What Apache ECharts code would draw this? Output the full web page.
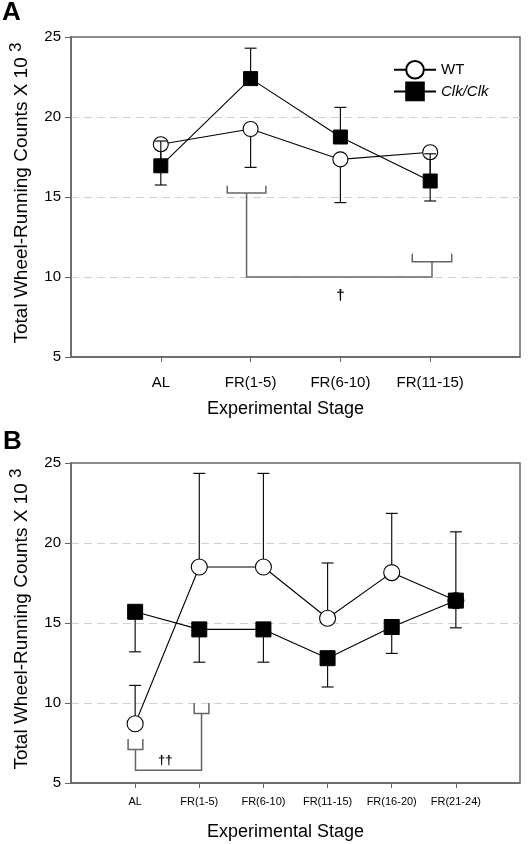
<!DOCTYPE html>
<html><head><meta charset="utf-8">
<script src="https://cdn.jsdelivr.net/npm/echarts@6/dist/echarts.min.js"></script>
<style>html,body{margin:0;padding:0;background:#fff}#c{width:529px;height:844px}</style>
</head><body><div id="c"></div>
<script>
// ---- data (x 10^3 counts) ----
const catsA = ['AL', 'FR(1-5)', 'FR(6-10)', 'FR(11-15)'];
const wtA = [18.3, 19.25, 17.35, 17.8];
const wtAErr = [2.55, 2.4, 2.7, 3.05];      // drawn downward
const clkA = [16.95, 22.4, 18.75, 16.0];
const clkAErr = [1.55, 1.9, 1.85, 1.7];     // drawn upward

const catsB = ['AL', 'FR(1-5)', 'FR(6-10)', 'FR(11-15)', 'FR(16-20)', 'FR(21-24)'];
const wtB = [8.7, 18.5, 18.5, 15.3, 18.15, 16.4];
const wtBErr = [2.4, 5.85, 5.85, 3.45, 3.7, 4.3];   // drawn upward
const clkB = [15.7, 14.6, 14.6, 12.8, 14.75, 16.4];
const clkBErr = [2.5, 2.05, 2.05, 1.8, 1.65, 1.7];  // drawn downward

const yMin = 5, yMax = 25, yStep = 5;

// significance brackets (category index, y in data units)
const sigA = {
  left: {cat: 2, off: -0.045, half: 0.215, top: 15.7, base: 15.25},
  right: {cat: 4, off: 0.02, half: 0.22, top: 11.45, base: 10.95},
  bar: 10.0, mark: '\u2020', markCat: 3, markY: 8.8, markFont: 15
};
const sigB = {
  left: {cat: 1, off: 0.005, half: 0.115, top: 7.75, base: 7.1},
  right: {cat: 2, off: 0.035, half: 0.115, top: 10.0, base: 9.35},
  bar: 5.8, mark: '\u2020\u2020', markCat: 1.47, markY: 6.4, markFont: 13
};

const FONT = 'Liberation Sans, Arial, sans-serif';
const AXIS = '#666';

function pad(c) { return [''].concat(c, ['']); }
function pts(v) { return v.map((y, i) => [i + 1, y]); }
function errs(v, e) { return v.map((y, i) => [i + 1, y, e[i]]); }

function errRender(dir, capW) {
  return function (params, api) {
    const x = api.value(0), y = api.value(1), e = api.value(2);
    const p0 = api.coord([x, y]);
    const p1 = api.coord([x, y + dir * e]);
    const st = {stroke: '#111', lineWidth: 1.2};
    return {type: 'group', children: [
      {type: 'line', shape: {x1: p0[0], y1: p0[1], x2: p1[0], y2: p1[1]}, style: st},
      {type: 'line', shape: {x1: p1[0] - capW / 2, y1: p1[1], x2: p1[0] + capW / 2, y2: p1[1]}, style: st}
    ]};
  };
}

function sigRender(s) {
  return function (params, api) {
    const step = api.coord([2, 10])[0] - api.coord([1, 10])[0];
    const P = (cat, off, y) => { const c = api.coord([Math.floor(cat), y]); return [c[0] + (cat - Math.floor(cat) + off) * step, c[1]]; };
    const st = {stroke: '#666', lineWidth: 1.5, fill: null};
    const br = b => ({type: 'polyline', shape: {points: [
      P(b.cat, b.off - b.half, b.top), P(b.cat, b.off - b.half, b.base),
      P(b.cat, b.off + b.half, b.base), P(b.cat, b.off + b.half, b.top)]}, style: st});
    const m = P(s.markCat, 0, s.markY);
    return {type: 'group', children: [
      br(s.left), br(s.right),
      {type: 'polyline', shape: {points: [
        P(s.left.cat, s.left.off, s.left.base), P(s.left.cat, s.left.off, s.bar),
        P(s.right.cat, s.right.off, s.bar), P(s.right.cat, s.right.off, s.right.base)]}, style: st},
      {type: 'text', x: m[0], y: m[1], style: {text: s.mark, font: 'bold ' + s.markFont + 'px ' + FONT, fill: '#000', align: 'center', verticalAlign: 'middle'}}
    ]};
  };
}

function xAxis(idx, cats, fs, margin, gap) {
  return {
    type: 'category', gridIndex: idx, data: pad(cats), boundaryGap: false,
    axisLine: {lineStyle: {color: AXIS, width: 1.5}},
    axisTick: {length: 5, lineStyle: {color: AXIS}, interval: (i, v) => v !== ''},
    axisLabel: {fontSize: fs, color: '#000', fontFamily: FONT, margin: margin, interval: 0},
    splitLine: {show: false},
    name: 'Experimental Stage', nameLocation: 'middle', nameGap: gap,
    nameTextStyle: {fontSize: 18, color: '#000', fontFamily: FONT, padding: [0, 20, 0, 0]}
  };
}
function yAxis(idx) {
  return {
    type: 'value', gridIndex: idx, min: yMin, max: yMax, interval: yStep,
    axisLine: {show: true, lineStyle: {color: AXIS, width: 1.5}},
    axisTick: {show: true, length: 6, lineStyle: {color: AXIS}},
    axisLabel: {fontSize: 15, color: '#000', fontFamily: FONT, margin: 10},
    splitLine: {show: true, showMinLine: false, showMaxLine: false,
      lineStyle: {color: '#d0d0d0', type: [8, 5], width: 1.2}},
    name: '{m|Total Wheel-Running Counts X 10 }{sup|3}', nameLocation: 'middle', nameRotate: 90, nameGap: 40,
    nameTextStyle: {fontSize: 19, color: '#000', fontFamily: FONT, padding: [0, 0, 0, 8],
      rich: {
        m: {fontSize: 19, color: '#000', fontFamily: FONT, lineHeight: 20, verticalAlign: 'bottom'},
        sup: {fontSize: 17, color: '#000', fontFamily: FONT, lineHeight: 17, padding: [0, 0, 6, 0], verticalAlign: 'bottom'}
      }}
  };
}

function panelSeries(gi, wt, wtE, wtDir, clk, clkE, clkDir, sig, symW, symC) {
  return [
    {type: 'custom', xAxisIndex: gi, yAxisIndex: gi, z: 1, silent: true, data: [[0, 0]], renderItem: sigRender(sig)},
    {type: 'custom', xAxisIndex: gi, yAxisIndex: gi, z: 2, silent: true, data: errs(wt, wtE), renderItem: errRender(wtDir, 12)},
    {type: 'line', name: 'WT', xAxisIndex: gi, yAxisIndex: gi, z: 3, data: pts(wt),
      symbol: 'circle', symbolSize: symC, showAllSymbol: true,
      lineStyle: {color: '#000', width: 1.1}, itemStyle: {color: '#fff', borderColor: '#000', borderWidth: 1.1}},
    {type: 'custom', xAxisIndex: gi, yAxisIndex: gi, z: 4, silent: true, data: errs(clk, clkE), renderItem: errRender(clkDir, 12)},
    {type: 'line', name: 'Clk/Clk', xAxisIndex: gi, yAxisIndex: gi, z: 5, data: pts(clk),
      symbol: 'rect', symbolSize: symW, showAllSymbol: true,
      lineStyle: {color: '#000', width: 1.1}, itemStyle: {color: '#000', borderColor: '#000', borderWidth: 1}}
  ];
}

const chart = echarts.init(document.getElementById('c'), null, {renderer: 'canvas'});
chart.setOption({
  animation: false,
  backgroundColor: '#fff',
  textStyle: {fontFamily: FONT},
  grid: [
    {left: 66, top: 37, width: 454, height: 320, show: true, borderColor: AXIS, borderWidth: 1.5},
    {left: 66, top: 463, width: 454, height: 320, show: true, borderColor: AXIS, borderWidth: 1.5}
  ],
  xAxis: [xAxis(0, catsA, 15, 18, 43), xAxis(1, catsB, 11, 13, 40)],
  yAxis: [yAxis(0), yAxis(1)],
  legend: {
    data: ['WT', 'Clk/Clk'], orient: 'vertical', left: 388, top: 55,
    itemWidth: 42, itemHeight: 22, itemGap: 2, selectedMode: false,
    textStyle: {fontSize: 15, color: '#000', fontFamily: FONT,
      rich: {i: {fontSize: 15, fontStyle: 'italic', color: '#000', fontFamily: FONT}}},
    formatter: n => n === 'Clk/Clk' ? '{i|Clk/Clk}' : n
  },
  graphic: [
    {type: 'text', left: 2, top: 0, style: {text: 'A', font: 'bold 26px ' + FONT, fill: '#000'}},
    {type: 'text', left: 3, top: 429, style: {text: 'B', font: 'bold 26px ' + FONT, fill: '#000'}}
  ],
  series: [].concat(
    panelSeries(0, wtA, wtAErr, -1, clkA, clkAErr, 1, sigA, 14, 15),
    panelSeries(1, wtB, wtBErr, 1, clkB, clkBErr, -1, sigB, 15, 16)
  )
});
</script></body></html>
